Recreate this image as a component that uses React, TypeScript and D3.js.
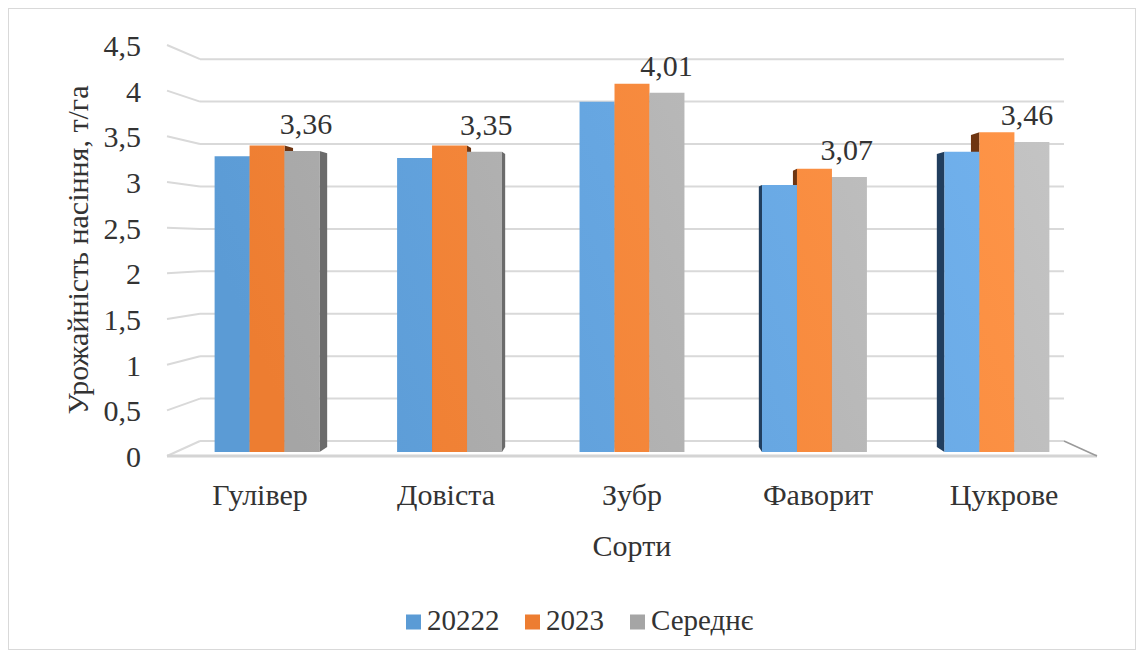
import React from "react";
import * as d3 from "d3";

// Урожайність насіння сортів, т/га
const categories = ["Гулівер", "Довіста", "Зубр", "Фаворит", "Цукрове"];
const seriesNames = ["20222", "2023", "Середнє"];
const values2022 = [3.3, 3.28, 3.91, 2.98, 3.35];
const values2023 = [3.42, 3.42, 4.11, 3.16, 3.57];
const valuesAvg = [3.36, 3.35, 4.01, 3.07, 3.46];
const yTicks = [0, 0.5, 1, 1.5, 2, 2.5, 3, 3.5, 4, 4.5];

const W = 1144;
const H = 657;
const FONT = "Liberation Serif, Tinos, DejaVu Serif, Times New Roman, serif";
const TEXT = "#333333";

// Front plane of the 3D plot box
const LEFT = 167;
const RIGHT = 1097;
const BOTTOM = 456;
const TOP = 45;

// Perspective: vanishing point and depth scale factors
const VX = 632;
const VY = 245;
const S_BACK = 0.929;
const S_BAR_FRONT = 0.981;
const S_BAR_BACK = 0.957;

const proj = (X: number, Y: number, s: number): [number, number] => [
  VX + (X - VX) * s,
  VY + (Y - VY) * s,
];

const poly = (pts: [number, number][]) =>
  pts.map((p) => `${p[0].toFixed(2)},${p[1].toFixed(2)}`).join(" ");

const fmt = (v: number, digits: number) =>
  d3.format(`.${digits}~f`)(v).replace(".", ",");

const frontColors = [
  ["#5b9bd5", "#72b2ee"],
  ["#ed7d31", "#ff9548"],
  ["#a5a5a5", "#c4c4c4"],
];
const sideColors = ["#213e5e", "#6e3511", "#6b6b6b"];

const textStyle: React.CSSProperties = { fontFamily: FONT };

export default function App() {
  const seriesValues = [values2022, values2023, valuesAvg];

  const y = d3.scaleLinear().domain([0, 4.5]).range([BOTTOM, TOP]);
  const x = d3
    .scaleBand<string>()
    .domain(categories)
    .range([LEFT, RIGHT])
    .paddingInner(0.425)
    .paddingOuter(0.2125);
  const xs = d3
    .scaleBand<string>()
    .domain(seriesNames)
    .range([0, x.bandwidth()])
    .padding(0);

  type Bar = {
    key: string;
    si: number;
    front: [number, number][];
    side: [number, number][] | null;
    labelX: number;
    topY: number;
    value: number;
  };

  const bars: Bar[] = [];
  categories.forEach((c, ci) => {
    seriesNames.forEach((s, si) => {
      const v = seriesValues[si][ci];
      const X0 = (x(c) as number) + (xs(s) as number);
      const X1 = X0 + xs.bandwidth();
      const Yt = y(v);
      const Yb = y(0);
      const front: [number, number][] = [
        proj(X0, Yt, S_BAR_FRONT),
        proj(X1, Yt, S_BAR_FRONT),
        proj(X1, Yb, S_BAR_FRONT),
        proj(X0, Yb, S_BAR_FRONT),
      ];
      let side: [number, number][] | null = null;
      if (X1 < VX) {
        side = [
          proj(X1, Yt, S_BAR_FRONT),
          proj(X1, Yt, S_BAR_BACK),
          proj(X1, Yb, S_BAR_BACK),
          proj(X1, Yb, S_BAR_FRONT),
        ];
      } else if (X0 > VX) {
        side = [
          proj(X0, Yt, S_BAR_FRONT),
          proj(X0, Yt, S_BAR_BACK),
          proj(X0, Yb, S_BAR_BACK),
          proj(X0, Yb, S_BAR_FRONT),
        ];
      }
      const mid = (S_BAR_FRONT + S_BAR_BACK) / 2;
      bars.push({
        key: `${c}-${s}`,
        si,
        front,
        side,
        labelX: proj((X0 + X1) / 2, Yt, mid)[0],
        topY: proj(X0, Yt, S_BAR_FRONT)[1],
        value: v,
      });
    });
  });

  const legendX = [406, 525, 630];

  return (
    <svg
      width={W}
      height={H}
      style={{ position: "absolute", left: 0, top: 0, background: "#fff", fontFamily: FONT }}
    >
      <defs>
        {frontColors.map((c, i) => (
          <linearGradient
            key={i}
            id={`grad${i}`}
            gradientUnits="userSpaceOnUse"
            x1={300}
            y1={450}
            x2={1050}
            y2={120}
          >
            <stop offset="0" stopColor={c[0]} />
            <stop offset="1" stopColor={c[1]} />
          </linearGradient>
        ))}
      </defs>

      <rect x={8.5} y={8.5} width={1127} height={641} fill="#fff" stroke="#d9d9d9" strokeWidth={1} />

      {/* walls: gridlines on the back and left walls */}
      {yTicks.map((t) => {
        const Yf = y(t);
        const [bx0, by] = proj(LEFT, Yf, S_BACK);
        const [bx1] = proj(RIGHT, Yf, S_BACK);
        return (
          <g key={t} stroke="#d9d9d9" strokeWidth={2} fill="none">
            <line x1={LEFT} y1={Yf} x2={bx0} y2={by} />
            <line x1={bx0} y1={by} x2={bx1} y2={by} />
          </g>
        );
      })}

      {/* floor edges */}
      <line x1={LEFT} y1={BOTTOM} x2={RIGHT} y2={BOTTOM} stroke="#d4d4d4" strokeWidth={3} />
      {(() => {
        const [rx, ry] = proj(RIGHT, BOTTOM, S_BACK);
        return <line x1={rx} y1={ry} x2={RIGHT} y2={BOTTOM} stroke="#9a9a9a" strokeWidth={1.5} />;
      })()}

      {/* bar side faces, then front faces */}
      {bars.map((b) =>
        b.side ? <polygon key={`s-${b.key}`} points={poly(b.side)} fill={sideColors[b.si]} /> : null
      )}
      {bars.map((b) => (
        <polygon key={`f-${b.key}`} points={poly(b.front)} fill={`url(#grad${b.si})`} />
      ))}

      {/* data labels for the average series */}
      {bars
        .filter((b) => b.si === 2)
        .map((b) => (
          <text
            key={`l-${b.key}`}
            x={b.labelX}
            y={b.topY - 17}
            textAnchor="middle"
            fontSize={30}
            fill={TEXT}
            style={textStyle}
          >
            {fmt(b.value, 2)}
          </text>
        ))}

      {/* y axis tick labels */}
      {yTicks.map((t) => (
        <text key={`yt-${t}`} x={141} y={y(t) + 11} textAnchor="end" fontSize={30} fill={TEXT} style={textStyle}>
          {fmt(t, 1)}
        </text>
      ))}

      {/* category labels */}
      {categories.map((c) => (
        <text
          key={`xc-${c}`}
          x={(x(c) as number) + x.bandwidth() / 2}
          y={505}
          textAnchor="middle"
          fontSize={30}
          fill={TEXT}
          style={textStyle}
        >
          {c}
        </text>
      ))}

      {/* axis titles */}
      <text x={632} y={556} textAnchor="middle" fontSize={30} fill={TEXT} style={textStyle}>
        Сорти
      </text>
      <text
        transform="translate(88,250) rotate(-90)"
        textAnchor="middle"
        fontSize={30}
        fill={TEXT}
        style={textStyle}
      >
        Урожайність насіння, т/га
      </text>

      {/* legend */}
      {seriesNames.map((s, i) => (
        <g key={`lg-${s}`}>
          <rect x={legendX[i]} y={614.5} width={15} height={15} fill={frontColors[i][0]} />
          <text x={legendX[i] + 21} y={630} fontSize={29} fill={TEXT} style={textStyle}>
            {s}
          </text>
        </g>
      ))}
    </svg>
  );
}
